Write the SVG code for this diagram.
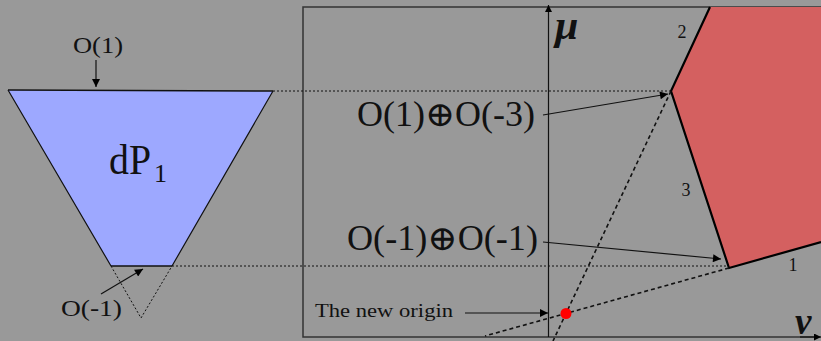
<svg xmlns="http://www.w3.org/2000/svg" width="821" height="341" viewBox="0 0 821 341">
<defs>
<style>
.t{font-family:"Liberation Serif","DejaVu Serif",serif;fill:#111}
.dot{stroke:#111;stroke-width:1;stroke-dasharray:2 2;fill:none}
.dash{stroke:#111;stroke-width:1.6;stroke-dasharray:4 3;fill:none}
.ln{stroke:#111;stroke-width:1.2;fill:none}
.edge{stroke:#000;stroke-width:2.2;fill:none}
</style>
<marker id="ah" viewBox="0 0 10 10" refX="10" refY="5" markerWidth="11" markerHeight="8" markerUnits="userSpaceOnUse" orient="auto">
<path d="M0,0 L10,5 L0,10 Z" fill="#000"/>
</marker>
<marker id="ahs" viewBox="0 0 10 10" refX="10" refY="5" markerWidth="8" markerHeight="7" markerUnits="userSpaceOnUse" orient="auto">
<path d="M0,0 L10,5 L0,10 Z" fill="#000"/>
</marker>
</defs>
<rect x="0" y="0" width="821" height="341" fill="#999999"/>

<g id="frame">
<path d="M821,7 H303 V337 H815" stroke="#333" stroke-width="1.5" fill="none"/>
</g>

<g id="dp1">
<polygon points="8,90 273,91 172,266 111,266" fill="#9DA8FF" stroke="none"/>
<path d="M8,90 L111,266 M273,91 L172,266" class="ln" stroke-width="1"/>
<path d="M8,90 L273,91 M111,266 L172,266" stroke="#111" stroke-width="1.6" fill="none"/>
<path d="M111,266 L141,318 L172,266" class="dot"/>
<text class="t" x="109" y="174" font-size="42" textLength="42" lengthAdjust="spacingAndGlyphs">dP</text>
<text class="t" x="154" y="182" font-size="26">1</text>
</g>

<g id="hexagon">
<polygon points="710,7 671,91 729,268 821,242 821,7" fill="#D46060"/>
<path d="M710,7 L671,91 L729,268 L821,242" class="edge"/>
<text class="t" x="682" y="38" font-size="18" text-anchor="middle">2</text>
<text class="t" x="686" y="196" font-size="18" text-anchor="middle">3</text>
<text class="t" x="793" y="271" font-size="18" text-anchor="middle">1</text>
</g>

<g id="axes">
<line x1="548.5" y1="337" x2="548.5" y2="5" stroke="#111" stroke-width="1.2" marker-end="url(#ahs)"/>
<line x1="800" y1="337" x2="821" y2="337" stroke="#111" stroke-width="1.2" marker-end="url(#ahs)"/>
<text class="t" x="555" y="39" font-size="42" font-style="italic" font-weight="bold" font-family="DejaVu Serif">μ</text>
<text class="t" x="795" y="334" font-size="37" font-style="italic" font-weight="bold" font-family="DejaVu Serif">ν</text>
</g>

<g id="labels">
<text class="t" x="357" y="126" font-size="35" textLength="178" lengthAdjust="spacingAndGlyphs">O(1)⊕O(-3)</text>
<text class="t" x="347" y="250" font-size="35" textLength="191" lengthAdjust="spacingAndGlyphs">O(-1)⊕O(-1)</text>
<text class="t" x="73" y="53" font-size="23" textLength="50" lengthAdjust="spacingAndGlyphs">O(1)</text>
<text class="t" x="61" y="316" font-size="23" textLength="61" lengthAdjust="spacingAndGlyphs">O(-1)</text>
<text class="t" x="315" y="317" font-size="19" textLength="138" lengthAdjust="spacingAndGlyphs">The new origin</text>
</g>

<g id="connectors">
<line x1="273" y1="91" x2="671" y2="91" class="dot"/>
<line x1="172" y1="266" x2="727" y2="266" class="dot"/>
<line x1="671" y1="91" x2="553" y2="341" class="dash"/>
<line x1="729" y1="268" x2="485" y2="336" class="dash"/>
<line x1="543" y1="115" x2="668" y2="94" class="ln" marker-end="url(#ah)"/>
<line x1="543" y1="242" x2="721" y2="259" class="ln" marker-end="url(#ah)"/>
<line x1="465" y1="313" x2="548" y2="313" class="ln" marker-end="url(#ah)"/>
<line x1="96" y1="60" x2="96" y2="87" class="ln" marker-end="url(#ah)"/>
<line x1="101" y1="294" x2="143" y2="269" class="ln" marker-end="url(#ah)"/>
</g>

<g id="origin">
<circle cx="566" cy="313.5" r="5.5" fill="#FF0000"/>
</g>
</svg>
